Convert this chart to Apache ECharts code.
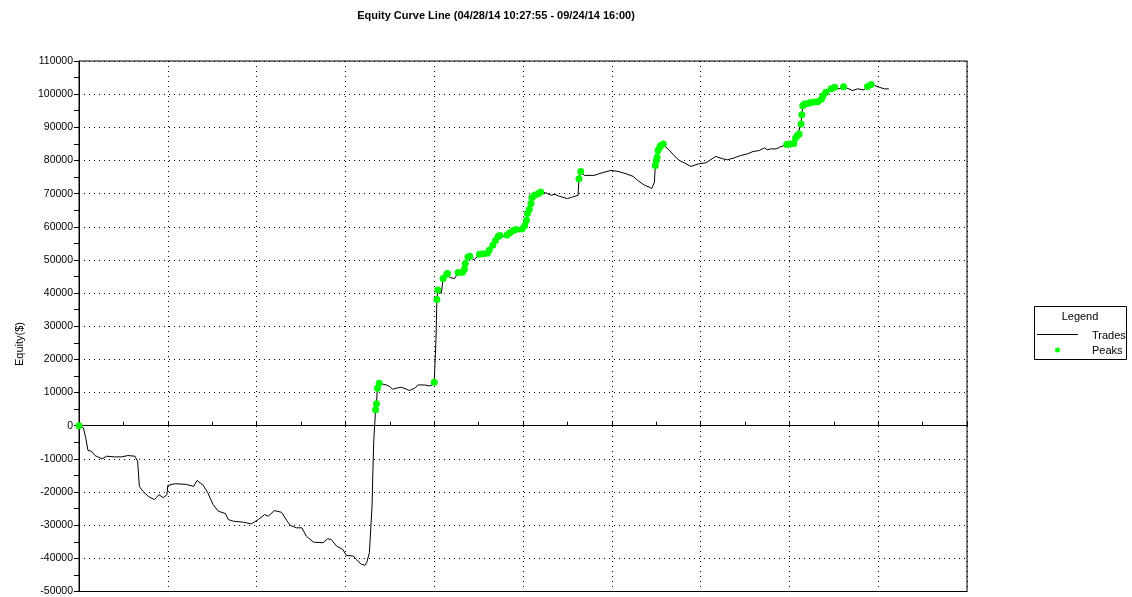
<!DOCTYPE html>
<html>
<head>
<meta charset="utf-8">
<script src="https://cdn.jsdelivr.net/npm/echarts@6/dist/echarts.min.js"></script>
<style>
html,body{margin:0;padding:0;background:#fff;}
#chart{width:1132px;height:597px;}
</style>
</head>
<body>
<div id="chart"></div>
<script>
var titleText = 'Equity Curve Line (04/28/14 10:27:55 - 09/24/14 16:00)';
var yAxisName = 'Equity($)';
var seriesNames = ['Trades', 'Peaks'];

var tradeNo = [
  0,5,8,10,14,18,26,31,40,48,
  55,63,66,68,72,78,85,90,95,99,
  100,108,121,129,133,140,145,151,157,165,
  168,174,185,194,202,209,213,220,228,234,
  238,245,251,256,264,275,280,284,290,297,
  301,309,312,318,322,324,327,329,330,331,
  332,334,335,336,338,346,350,353,357,363,
  369,372,378,382,389,395,398,400,402,403,
  404,408,410,414,415,418,423,427,432,434,
  435,438,440,445,451,455,460,462,466,469,
  472,474,477,482,485,489,492,496,499,502,
  504,505,507,509,510,513,517,520,526,532,
  535,541,550,556,562,563,565,569,580,588,
  599,607,616,624,629,637,642,645,648,649,
  650,651,652,654,655,658,660,665,670,676,
  682,689,698,706,714,717,725,730,738,745,
  753,759,766,772,775,779,785,789,794,797,
  801,805,807,809,811,813,814,815,817,821,
  824,828,832,836,838,841,847,851,856,861,
  867,871,877,884,888,892,896,901,907,912
];
var equity = [
  0,-700,-4200,-7400,-7700,-9000,-10000,-9200,-9400,-9400,
  -9000,-9200,-10700,-18300,-19800,-21300,-22300,-20800,-21700,-20800,
  -18000,-17500,-17700,-18300,-16500,-18000,-20200,-23800,-25800,-26500,
  -28300,-28800,-29100,-29600,-28300,-26800,-27300,-25600,-26100,-28600,
  -30100,-30800,-30800,-33300,-35100,-35300,-34100,-34300,-36300,-37300,
  -39100,-39300,-40300,-41800,-42100,-41300,-38300,-37800,-24300,-13200,
  -4200,4800,6600,11300,12800,12300,11800,11000,11300,11600,
  11000,10600,11300,12300,12300,12000,12300,13100,25900,38100,
  40900,39900,44400,45700,45900,44700,44400,46200,46300,47200,
  48900,50900,51100,50100,51700,51900,52000,52900,54400,55900,
  57100,57400,57000,57500,58100,58900,59200,58500,59300,60400,
  62000,64000,65200,67000,68800,69500,70000,70500,70200,69500,
  69800,69200,68500,69000,69500,74500,76700,75500,75500,76200,
  77000,76700,76000,75200,74000,72500,72000,71500,73500,78500,
  80000,81000,83000,84000,84500,85000,84200,83000,81500,80000,
  79200,78200,79000,79300,80700,81200,80500,80200,80800,81500,
  82000,82700,83000,83800,83200,83500,83500,84000,84500,84800,
  85000,85100,86800,87500,88000,91000,93800,96500,97000,97200,
  97500,97600,97700,98500,99500,100600,101600,102100,101600,102200,
  101600,101100,101600,101300,102300,102900,102600,102100,101600,101600
];
var peakTradeNo = [
  0,334,335,336,338,400,403,404,410,414,415,427,432,434,435,438,440,
  451,455,460,462,466,469,472,474,482,485,489,492,499,502,504,505,507,
  509,510,513,517,520,563,565,649,650,651,652,654,655,658,
  797,801,805,807,809,811,813,814,815,817,821,824,828,832,836,838,841,
  847,851,861,888,892
];

var lineData = tradeNo.map(function (t, i) { return [t, equity[i]]; });
var peakData = peakTradeNo.map(function (t) {
  var i = tradeNo.indexOf(t);
  return [t, equity[i]];
});

var chart = echarts.init(document.getElementById('chart'), null, {renderer: 'canvas'});
var FONT = '"Liberation Sans", Arial, sans-serif';
var dotted = [1, 4];

chart.setOption({
  animation: false,
  backgroundColor: '#ffffff',
  title: {
    text: titleText,
    left: 491, top: 5,
    textAlign: 'center',
    textStyle: {fontFamily: FONT, fontSize: 11, fontWeight: 'bold', color: '#000'}
  },
  grid: {
    left: 79, top: 61, width: 888, height: 531,
    show: true, borderColor: '#000', borderWidth: 1, backgroundColor: 'transparent'
  },
  xAxis: {
    type: 'value', min: 0, max: 1000, interval: 100,
    axisLine: {onZero: true, lineStyle: {color: '#000', width: 1}},
    axisTick: {show: true, inside: true, length: 4, lineStyle: {color: '#000'}},
    minorTick: {show: true, splitNumber: 2, length: 4, lineStyle: {color: '#000'}},
    axisLabel: {show: false},
    splitLine: {show: true, lineStyle: {color: '#000', type: dotted, width: 1}}
  },
  yAxis: {
    type: 'value', min: -50000, max: 110000, interval: 10000,
    axisLine: {show: true, onZero: false, lineStyle: {color: '#000', width: 1}},
    axisTick: {show: true, length: 5, lineStyle: {color: '#000'}},
    minorTick: {show: true, splitNumber: 2, length: 5, lineStyle: {color: '#000'}},
    axisLabel: {
      margin: 6, fontFamily: FONT, fontSize: 10.5, color: '#000',
      formatter: function (v) { return String(v); }
    },
    splitLine: {show: true, lineStyle: {color: '#000', type: dotted, width: 1}}
  },
  series: [
    {
      name: seriesNames[0], type: 'line', data: lineData,
      showSymbol: false, symbol: 'none',
      lineStyle: {color: '#000', width: 1}, z: 3
    },
    {
      name: seriesNames[1], type: 'scatter', data: peakData,
      symbol: 'circle', symbolSize: 7,
      itemStyle: {color: '#00ff00', opacity: 1}, z: 4
    }
  ],
  graphic: [
    {
      type: 'text', left: 14, top: 322, rotation: Math.PI / 2,
      style: {text: yAxisName, font: '11px ' + FONT, fill: '#000'}
    },
    {
      type: 'rect', shape: {x: 1034.5, y: 306.5, width: 92, height: 53},
      style: {fill: '#fff', stroke: '#000', lineWidth: 1}
    },
    {
      type: 'text', x: 1080, y: 317,
      style: {text: 'Legend', font: '11px ' + FONT, fill: '#000', textAlign: 'center', textVerticalAlign: 'middle'}
    },
    {
      type: 'line', shape: {x1: 1037, y1: 334.5, x2: 1078, y2: 334.5},
      style: {stroke: '#000', lineWidth: 1}
    },
    {
      type: 'text', x: 1092, y: 336,
      style: {text: seriesNames[0], font: '11px ' + FONT, fill: '#000', textAlign: 'left', textVerticalAlign: 'middle'}
    },
    {
      type: 'circle', shape: {cx: 1057.5, cy: 350, r: 2.5},
      style: {fill: '#00ff00'}
    },
    {
      type: 'text', x: 1092, y: 351,
      style: {text: seriesNames[1], font: '11px ' + FONT, fill: '#000', textAlign: 'left', textVerticalAlign: 'middle'}
    }
  ]
});
</script>
</body>
</html>
